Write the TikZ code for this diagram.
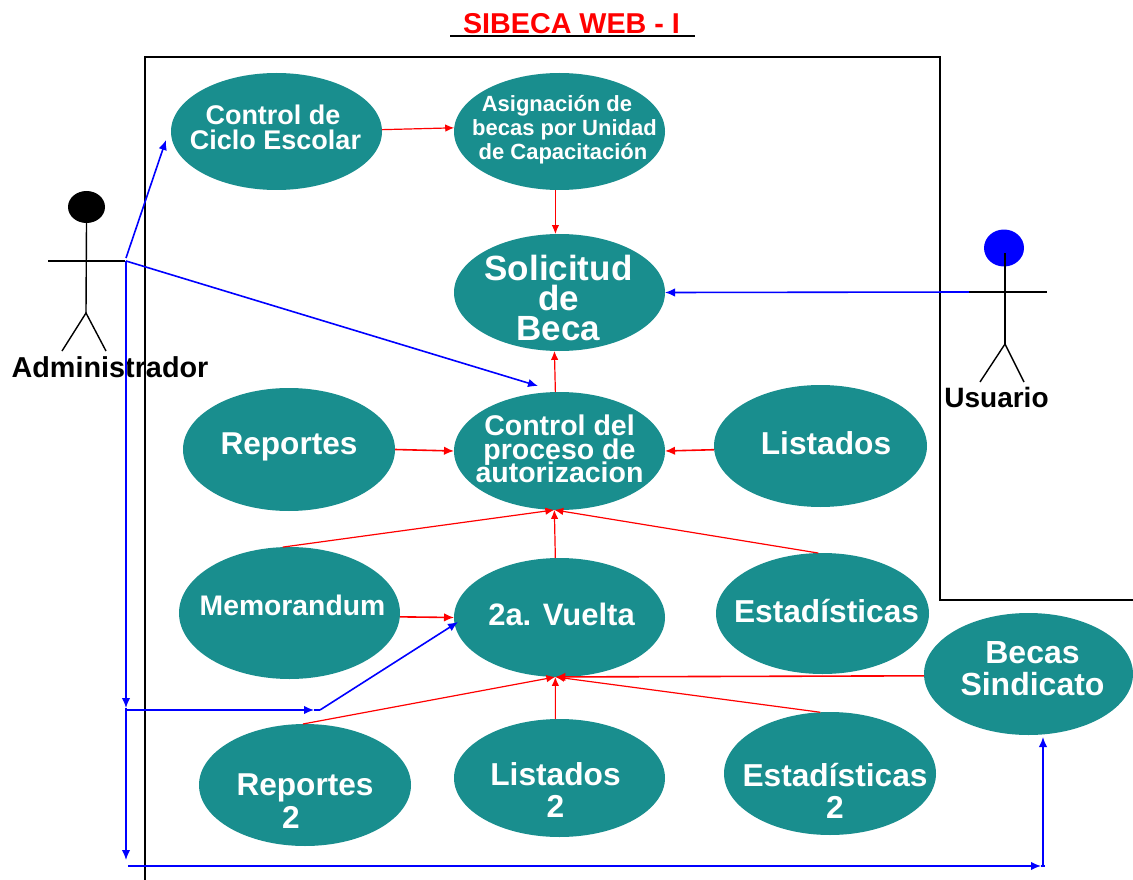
\documentclass[tikz,border=0pt]{standalone}
\usepackage{fontspec}
\setmainfont{Liberation Sans}
\usetikzlibrary{arrows.meta,shapes.geometric}
\definecolor{teal}{HTML}{198E8E}
\tikzset{
  uc/.style={ellipse,fill=teal,draw=none,inner sep=0pt,outer sep=0pt},
  lbl/.style={text=white,font=\bfseries\fontsize{#1}{#1}\selectfont,align=center,inner sep=0pt,outer sep=0pt},
  actorname/.style={text=black,font=\bfseries\fontsize{#1}{#1}\selectfont,inner sep=0pt},
  frameline/.style={black,line width=1.5pt},
  figline/.style={black,line width=1.4pt},
  blueln/.style={blue,line width=1.6pt,-{Latex[length=10pt,width=8.5pt]}},
  blueplain/.style={blue,line width=1.6pt},
  redln/.style={red,line width=1.6pt,-{Latex[length=10pt,width=8.5pt]}},
  redthin/.style={red,line width=1.2pt,-{Latex[length=9pt,width=7.5pt]}},
}
\newcommand{\padx}[1]{\hbox to #1pt{}}
\newcommand{\ucnode}[8]{% name, cx, cy, w, h, label dx, label dy, font size; text in \ucText
  \node[uc,minimum width=#4pt,minimum height=#5pt] (#1) at (#2,#3) {};
  \node[lbl=#8,anchor=center] (#1t) at (#2+#6,#3+#7) {\lineskiplimit=-30pt\relax\ucText};
}
\begin{document}
\begin{tikzpicture}[x=1pt,y=-1pt]
\useasboundingbox (0,0) rectangle (1133,880);
\fill[white] (0,0) rectangle (1133,880);
% title
\node[text=red,font=\bfseries\fontsize{28.7}{29}\selectfont,inner sep=0pt] (title) at (571.5,23.5) {SIBECA WEB - I};
\coordinate (ulL) at (450,36); \coordinate (ulR) at (695,36);
\draw[black,line width=1.6pt] (ulL) -- (ulR);
% frame
\coordinate (f1) at (145,880); \coordinate (f2) at (145,57); \coordinate (f3) at (940,57);
\coordinate (f4) at (940,600); \coordinate (f5) at (1133,600);
\draw[frameline] (f1) -- (f2) -- (f3) -- (f4) -- (f5);
% use cases
\def\ucText{Control de\padx{5}\\[-1.5pt]Ciclo Escolar}\ucnode{ciclo}{276.5}{131.5}{211}{117}{-1}{-4}{27}
\def\ucText{Asignación de\padx{5}\\[2pt]\padx{10}becas por Unidad\\[2pt]\padx{7}de Capacitación}\ucnode{asig}{559.5}{131.5}{211}{117}{0}{-1.5}{22}
\def\ucText{Solicitud\\[-5pt]de\\[-5pt]Beca}\ucnode{sol}{559.5}{292.5}{211}{117}{-1}{5}{35}
\def\ucText{Control del\\[-5pt]proceso de\\[-5pt]autorizacion}\ucnode{ctrl}{559.5}{451}{211}{118}{0}{-2}{28.5}
\def\ucText{Reportes}\ucnode{rep}{289}{449.5}{212}{123}{0}{-3}{31.6}
\def\ucText{Listados}\ucnode{lis}{820.5}{446}{213}{122}{5.5}{-3}{31.7}
\def\ucText{Memorandum}\ucnode{mem}{289.5}{613}{221}{132}{3}{-8}{28.3}
\def\ucText{2a. Vuelta}\ucnode{vue}{559.5}{617.5}{211}{119}{2}{-3}{31}
\def\ucText{Estadísticas}\ucnode{est}{822.5}{613.5}{213}{121}{4}{-2}{31.7}
\def\ucText{Becas\\[0pt]Sindicato}\ucnode{bec}{1028.5}{674}{209}{122}{4}{-5}{32}
\def\ucText{Reportes\\[1.5pt]2\padx{28}}\ucnode{rep2}{305}{785}{212}{122}{0}{16}{31.6}
\def\ucText{Listados\\[1pt]2}\ucnode{lis2}{559.5}{778}{211}{118}{-4}{12}{31.7}
\def\ucText{Estadísticas\\[0.5pt]2}\ucnode{est2}{830}{773.5}{212}{123}{5}{17}{31.7}
% actors
\node[actorname=28.8,anchor=center] (admin) at (110,367) {Administrador};
\node[ellipse,fill=black,inner sep=0pt,minimum width=37pt,minimum height=32pt] (ahead) at (86.5,207) {};
\coordinate (ahip) at (86,313); \coordinate (aL) at (48,261); \coordinate (aR) at (125,261);
\coordinate (alegL) at (62,351); \coordinate (alegR) at (106,351);
\draw[figline] (ahead.south) -- (ahip);
\draw[figline] (aL) -- (aR);
\draw[figline] (alegL) -- (ahip) -- (alegR);
\node[actorname=28,anchor=center] (usu) at (996.5,397) {Usuario};
\node[ellipse,fill=blue,inner sep=0pt,minimum width=40pt,minimum height=37pt] (uhead) at (1004,248) {};
\coordinate (uneck) at (1005,253); \coordinate (uhip) at (1005,344); \coordinate (uL) at (969,292); \coordinate (uR) at (1047,292);
\coordinate (ulegL) at (980,382); \coordinate (ulegR) at (1024,382);
\draw[figline] (uneck) -- (uhip);
\draw[figline] (uL) -- (uR);
\draw[figline] (ulegL) -- (uhip) -- (ulegR);
% red connectors
\draw[redthin] (ciclo.1.3) -- (asig.178.7);
\draw[redthin] (asig.266) -- (sol.94);
\draw[redthin] (ctrl.94.4) -- (sol.265.6);
\draw[redln] (rep.east) -- (ctrl.west);
\draw[redln] (lis.182.2) -- (ctrl.east);
\draw[redthin] (mem.96.5) -- (ctrl.265.6);
\draw[redthin] (vue.94.4) -- (ctrl.265.6);
\draw[redthin] (est.94.3) -- (ctrl.265.6);
\draw[redln] (mem.-2.6) -- (vue.west);
\draw[redthin] (rep2.92.8) -- (vue.266);
\draw[redthin] (lis2.94.4) -- (vue.266);
\draw[redthin] (est2.99.3) -- (vue.266);
\draw[redln] (bec.181.6) -- (vue.266);
% blue connectors
\coordinate (b0) at (126,258); \coordinate (b1) at (166,140); \coordinate (b2) at (126,261);
\coordinate (b3) at (538,386); \coordinate (b4) at (126,708); \coordinate (b5) at (126,860);
\coordinate (b6) at (127,710); \coordinate (b7) at (314,710); \coordinate (b8) at (320,710);
\coordinate (b9) at (458,622); \coordinate (b10) at (128,866); \coordinate (b11) at (1041,866);
\coordinate (b12) at (1045,866); \coordinate (b13) at (1043,737); \coordinate (b14) at (1043,866);
\draw[blueln] (b0) -- (b1);
\draw[blueln] (b2) -- (b3);
\draw[blueln] (b2) -- (b4);
\draw[blueln] (b4) -- (b5);
\draw[blueln] (b6) -- (b7);
\draw[blueplain] (b7) -- (b8);
\draw[blueln] (b8) -- (b9);
\draw[blueln] (b10) -- (b11);
\draw[blueplain] (b11) -- (b12);
\draw[blueln] (b14) -- (b13);
\draw[blueln] (uL) -- (sol.east);
\end{tikzpicture}
\end{document}
